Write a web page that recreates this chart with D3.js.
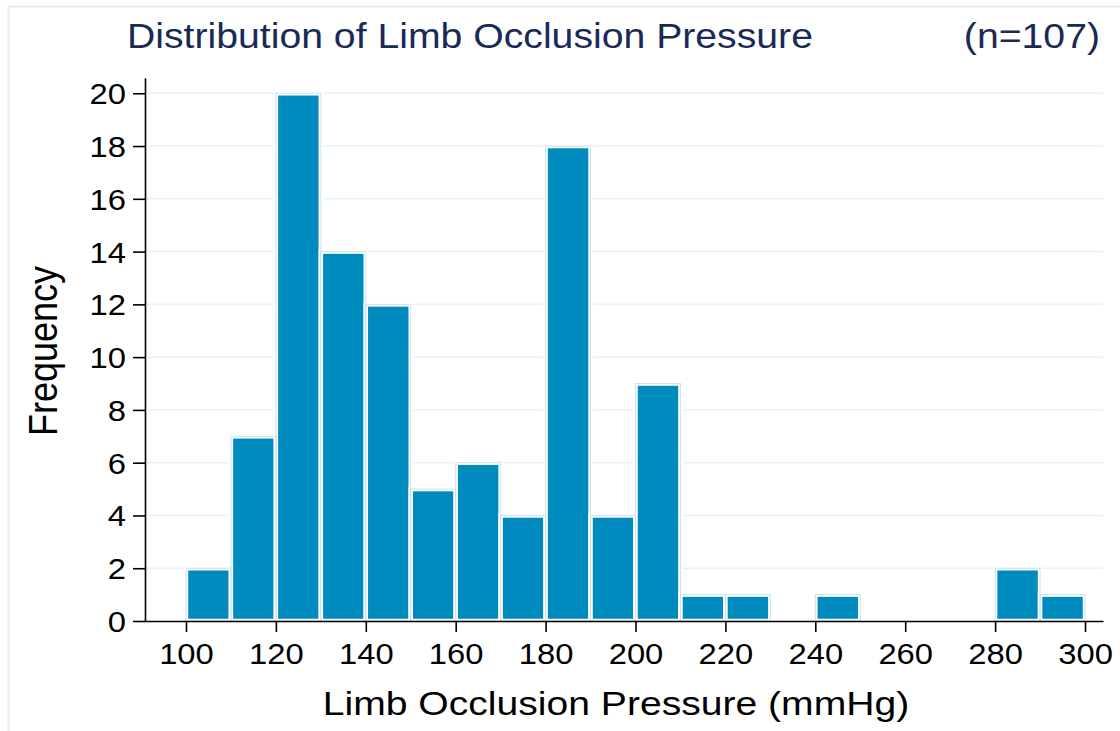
<!DOCTYPE html>
<html>
<head>
<meta charset="utf-8">
<script src="https://cdn.jsdelivr.net/npm/d3@7"></script>
<style>
  body { margin: 0; background: #fff; }
  svg { display: block; font-family: "Liberation Sans", Arial, sans-serif; }
</style>
</head>
<body>
<div id="histviz"></div>
<script>
// histogram data: bins of width 10 mmHg, left edges
const binStarts = [100, 110, 120, 130, 140, 150, 160, 170, 180, 190,
                   200, 210, 220, 230, 240, 250, 260, 270, 280, 290];
const binWidth = 10;
const counts = [2, 7, 20, 14, 12, 5, 6, 4, 18, 4,
                9, 1, 1, 0, 1, 0, 0, 0, 2, 1];
const xTicks = [100, 120, 140, 160, 180, 200, 220, 240, 260, 280, 300];
const yTicks = [0, 2, 4, 6, 8, 10, 12, 14, 16, 18, 20];
const titleText = "Distribution of Limb Occlusion Pressure";
const nText = "(n=107)";

const W = 1120, H = 731;
const sx = 1.13; // the original picture is a bit wider than tall text

const svg = d3.select("#histviz")
    .append("svg")
    .attr("width", W)
    .attr("height", H);

// outer frame
svg.append("rect")
    .attr("x", 8.5).attr("y", 6.5)
    .attr("width", W + 20).attr("height", H + 20)
    .attr("fill", "#fff")
    .attr("stroke", "#e3edf1")
    .attr("stroke-width", 2);

// scales
const x = d3.scaleLinear()
    .domain([90.66, 304])
    .range([144, 1103]);
const y = d3.scaleLinear()
    .domain([0, 20.59])
    .range([621, 77.7]);

// gridlines
svg.append("g")
    .selectAll("line")
    .data(yTicks.filter(d => d > 0))
    .enter()
    .append("line")
    .attr("x1", x.range()[0])
    .attr("x2", x.range()[1])
    .attr("y1", d => y(d))
    .attr("y2", d => y(d))
    .attr("stroke", "#e8f1f3")
    .attr("stroke-width", 1.5);

const bins = binStarts.map((s, i) => ({x0: s, x1: s + binWidth, n: counts[i]}))
    .filter(d => d.n > 0);

// bars: filled part with white halo, then thin light outline at the bin edges
svg.append("g")
    .selectAll("rect")
    .data(bins)
    .enter()
    .append("rect")
    .attr("x", d => x(d.x0))
    .attr("y", d => y(d.n))
    .attr("width", d => x(d.x1) - x(d.x0))
    .attr("height", d => y(0) - y(d.n))
    .attr("fill", "#008bbe")
    .attr("stroke", "#fff")
    .attr("stroke-width", 4.5);

svg.append("g")
    .selectAll("rect")
    .data(bins)
    .enter()
    .append("rect")
    .attr("x", d => x(d.x0))
    .attr("y", d => y(d.n))
    .attr("width", d => x(d.x1) - x(d.x0))
    .attr("height", d => y(0) - y(d.n))
    .attr("fill", "none")
    .attr("stroke", "#c9e3ed")
    .attr("stroke-width", 1);

// X axis
const gx = svg.append("g")
    .attr("transform", "translate(0," + y(0) + ")")
    .call(d3.axisBottom(x).tickValues(xTicks).tickSize(11).tickSizeOuter(0));
gx.selectAll("text")
    .attr("y", 43)
    .attr("dy", null)
    .attr("font-size", 29)
    .attr("fill", "#000")
    .attr("transform", "scale(" + sx + ",1)");

// Y axis
const gy = svg.append("g")
    .attr("transform", "translate(" + (x.range()[0] + 1) + ",0)")
    .call(d3.axisLeft(y).tickValues(yTicks).tickSize(12).tickSizeOuter(0));
gy.selectAll("text")
    .attr("x", -19 / sx)
    .attr("dy", "0.36em")
    .attr("font-size", 29)
    .attr("fill", "#000")
    .attr("transform", "scale(" + sx + ",1)");

svg.selectAll(".domain, .tick line")
    .attr("stroke", "#000")
    .attr("stroke-width", 1.6);

// titles
svg.append("text")
    .attr("transform", "translate(127,48) scale(1.12,1)")
    .attr("font-size", 35)
    .attr("fill", "#1a2a57")
    .text(titleText);

svg.append("text")
    .attr("transform", "translate(1100,48) scale(1.12,1)")
    .attr("text-anchor", "end")
    .attr("font-size", 35)
    .attr("fill", "#1a2a57")
    .text(nText);

svg.append("text")
    .attr("transform", "translate(616,715) scale(1.15,1)")
    .attr("text-anchor", "middle")
    .attr("font-size", 34)
    .attr("fill", "#000")
    .text("Limb Occlusion Pressure (mmHg)");

svg.append("text")
    .attr("transform", "translate(57,351) scale(" + sx + ",1) rotate(-90)")
    .attr("text-anchor", "middle")
    .attr("font-size", 36)
    .attr("fill", "#000")
    .text("Frequency");
</script>
</body>
</html>
